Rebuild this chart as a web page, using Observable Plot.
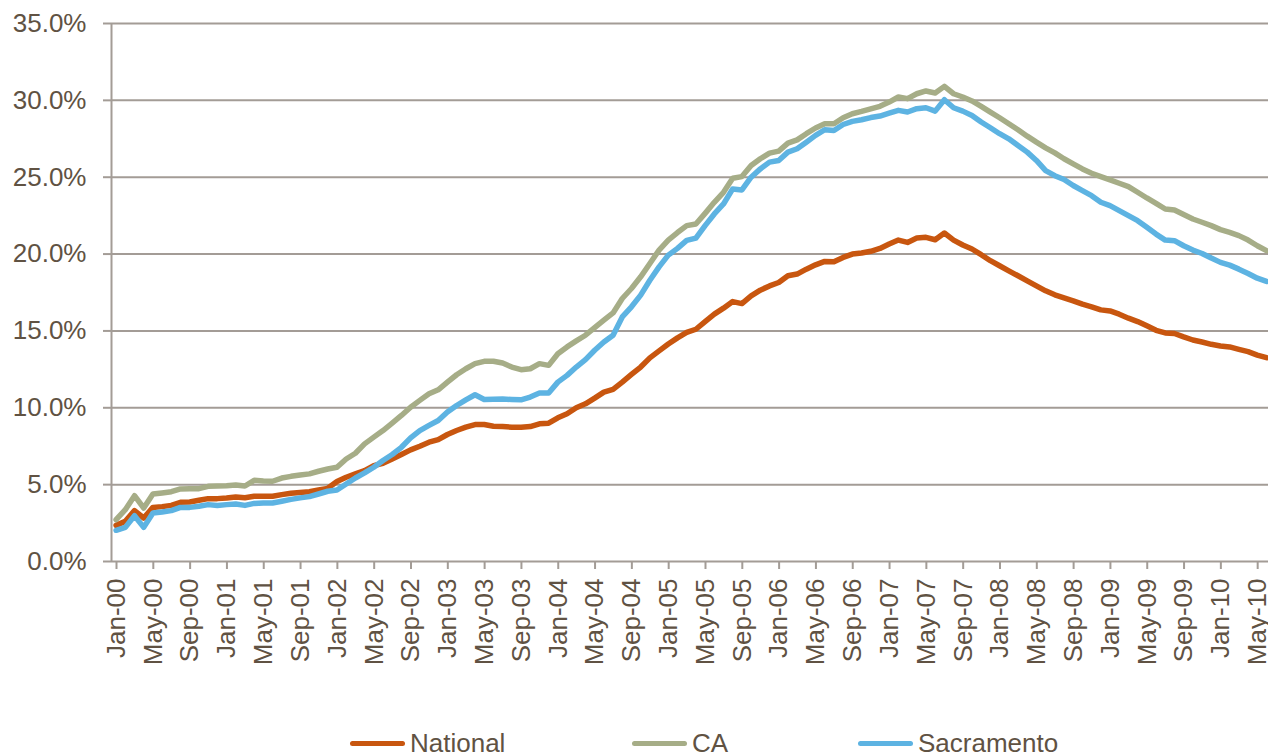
<!DOCTYPE html>
<html><head><meta charset="utf-8">
<script src="https://cdn.jsdelivr.net/npm/d3@7"></script>
<script src="https://cdn.jsdelivr.net/npm/@observablehq/plot@0.6"></script>
<style>
body{margin:0;background:#fff;font-family:"Liberation Sans",Arial,sans-serif;}
#wrap{position:relative;width:1268px;height:755px;overflow:hidden;background:#fff;}
#chart svg{display:block;}
.item{position:absolute;top:728px;height:30px;display:flex;align-items:center;font-size:26px;color:#605243;white-space:nowrap;}
.sw{width:55px;height:5px;border-radius:3px;margin-right:5px;}
</style></head>
<body><div id="wrap"><div id="chart"></div><div id="legend"></div></div>
<script>
// Categories: months Jan-00 .. Jun-10 (index = position in each series)
const tickLabels = ["Jan-00","May-00","Sep-00","Jan-01","May-01","Sep-01","Jan-02","May-02","Sep-02","Jan-03","May-03","Sep-03","Jan-04","May-04","Sep-04","Jan-05","May-05","Sep-05","Jan-06","May-06","Sep-06","Jan-07","May-07","Sep-07","Jan-08","May-08","Sep-08","Jan-09","May-09","Sep-09","Jan-10","May-10"];
const seriesNames = ["National","CA","Sacramento"];
const seriesColors = ["#c8560f","#a6ad87","#5db3e2"];
const yTicks = [0,5,10,15,20,25,30,35];

const national = [2.35,2.61,3.31,2.83,3.52,3.57,3.65,3.85,3.87,3.98,4.09,4.09,4.13,4.20,4.15,4.24,4.24,4.24,4.35,4.44,
4.49,4.54,4.65,4.76,5.20,5.48,5.70,5.91,6.24,6.39,6.67,6.96,7.26,7.50,7.76,7.93,8.26,8.52,8.74,8.91,
8.91,8.80,8.78,8.74,8.74,8.78,8.96,9.00,9.35,9.61,10.00,10.26,10.63,11.02,11.20,11.67,12.17,12.65,13.25,13.70,
14.15,14.55,14.90,15.11,15.61,16.09,16.48,16.91,16.78,17.28,17.65,17.93,18.15,18.59,18.70,19.02,19.30,19.52,19.50,19.78,
20.00,20.07,20.18,20.37,20.65,20.91,20.76,21.04,21.09,20.93,21.37,20.91,20.59,20.33,19.96,19.57,19.24,18.91,18.59,18.26,
17.93,17.61,17.35,17.15,16.96,16.74,16.57,16.37,16.30,16.09,15.83,15.61,15.33,15.04,14.87,14.83,14.61,14.41,14.28,14.13,
14.02,13.96,13.80,13.65,13.43,13.26];
const ca = [2.72,3.37,4.28,3.48,4.39,4.46,4.54,4.72,4.74,4.74,4.89,4.91,4.93,4.98,4.91,5.28,5.24,5.22,5.43,5.54,
5.63,5.70,5.87,6.02,6.13,6.67,7.04,7.65,8.09,8.52,9.00,9.50,10.04,10.48,10.91,11.17,11.67,12.15,12.54,12.87,
13.02,13.03,12.91,12.65,12.48,12.54,12.87,12.76,13.52,13.96,14.35,14.72,15.22,15.70,16.17,17.11,17.76,18.52,19.39,20.26,
20.91,21.40,21.85,21.96,22.65,23.37,24.02,24.93,25.04,25.76,26.20,26.57,26.70,27.22,27.43,27.83,28.20,28.48,28.48,28.87,
29.13,29.28,29.45,29.61,29.89,30.22,30.11,30.43,30.61,30.48,30.91,30.43,30.22,29.96,29.61,29.24,28.87,28.48,28.09,27.67,
27.28,26.91,26.58,26.20,25.87,25.54,25.26,25.04,24.83,24.61,24.39,24.02,23.65,23.30,22.93,22.87,22.57,22.28,22.07,21.85,
21.59,21.41,21.20,20.91,20.54,20.22];
const sacramento = [2.03,2.22,2.98,2.22,3.16,3.22,3.31,3.52,3.52,3.59,3.70,3.65,3.70,3.74,3.65,3.78,3.81,3.81,3.92,4.04,
4.14,4.22,4.39,4.57,4.65,5.04,5.43,5.76,6.13,6.57,6.96,7.43,8.04,8.52,8.85,9.17,9.72,10.15,10.52,10.85,
10.54,10.55,10.57,10.54,10.52,10.70,10.96,10.96,11.67,12.11,12.65,13.13,13.74,14.28,14.72,15.91,16.57,17.33,18.30,19.17,
19.93,20.37,20.89,21.04,21.85,22.61,23.26,24.24,24.17,25.00,25.54,25.98,26.09,26.63,26.85,27.28,27.72,28.09,28.04,28.43,
28.63,28.74,28.88,28.98,29.17,29.35,29.24,29.46,29.52,29.30,30.04,29.52,29.30,29.02,28.59,28.22,27.83,27.50,27.07,26.63,
26.09,25.43,25.10,24.85,24.46,24.13,23.80,23.37,23.15,22.83,22.50,22.17,21.74,21.30,20.91,20.87,20.54,20.26,20.04,19.74,
19.46,19.28,19.02,18.74,18.43,18.22];

const seriesValues = [national, ca, sacramento];
const data = [];
seriesNames.forEach((name, s) => seriesValues[s].forEach((v, i) => data.push({m: i + 0.5, v, name})));
const nMonths = national.length;
const tickPos = tickLabels.map((_, k) => k * 4);

const textColor = "#605243";
const gridColor = "#a39c96";

const chart = Plot.plot({
  width: 1268, height: 700,
  marginLeft: 111, marginRight: 0, marginTop: 23, marginBottom: 139,
  style: {fontFamily: "'Liberation Sans', Arial, sans-serif", fontSize: "26px", color: textColor, background: "#fff", overflow: "visible"},
  x: {domain: [0, nMonths], range: [111, 111 + nMonths * 9.203]},
  y: {domain: [0, 35]},
  color: {domain: seriesNames, range: seriesColors},
  marks: [
    Plot.ruleY(yTicks, {stroke: gridColor, strokeWidth: 2}),
    Plot.ruleX([0], {y1: 0, y2: 35, stroke: gridColor, strokeWidth: 2}),
    Plot.axisY({ticks: yTicks, tickFormat: d => d.toFixed(1) + "%", tickSize: 8, tickPadding: 17,
      stroke: gridColor, strokeWidth: 2, strokeOpacity: 1, fill: textColor, fontSize: 26, label: null}),
    Plot.axisX({ticks: tickPos, tickFormat: d => tickLabels[d / 4], tickRotate: -90, tickSize: 8, tickPadding: 9,
      stroke: gridColor, strokeWidth: 2, strokeOpacity: 1, fill: textColor, fontSize: 26, label: null, dx: 5}),
    Plot.lineY(data, {x: "m", y: "v", z: "name", stroke: "name", strokeWidth: 5.5, strokeLinejoin: "round", strokeLinecap: "round"})
  ]
});
document.getElementById("chart").appendChild(chart);

const legendX = [350, 632, 858];
const legend = document.getElementById("legend");
seriesNames.forEach((name, s) => {
  const it = document.createElement("div");
  it.className = "item";
  it.style.left = legendX[s] + "px";
  it.innerHTML = `<div class="sw" style="background:${seriesColors[s]}"></div><span>${name}</span>`;
  legend.appendChild(it);
});
</script>
</body></html>
